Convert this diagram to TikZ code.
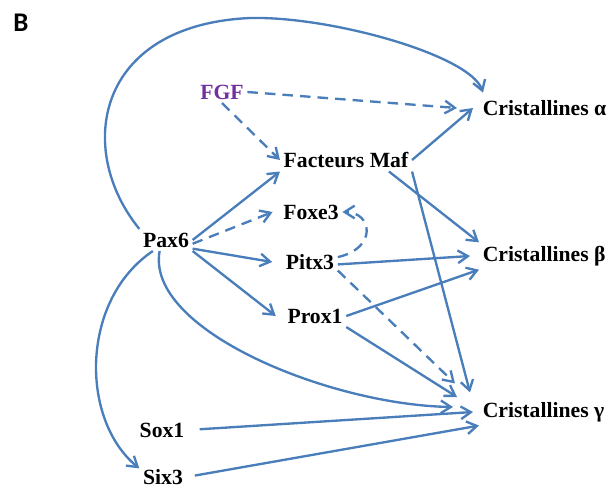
\documentclass[tikz,border=0pt]{standalone}
\usepackage{fontspec}
\setmainfont{Liberation Serif}
\newfontfamily\panelfont{Carlito}
\usetikzlibrary{arrows.meta,calc}
\definecolor{linkblue}{HTML}{4A7EBB}
\definecolor{fgfpurple}{HTML}{7030A0}
\tikzset{
  gene/.style={font=\fontsize{18.5}{20}\selectfont\bfseries, inner sep=3pt},
  crys/.style={gene, anchor=west},
  arr/.style={-{Straight Barb[length=3mm,width=3.8mm]}, line width=2pt, draw=linkblue},
  dasharr/.style={arr, dash pattern=on 9pt off 6pt}
}
\begin{document}
\begin{tikzpicture}[x=0.03cm,y=-0.03cm]
  \useasboundingbox (0,0) rectangle (612,490);
  \node[font=\panelfont\bfseries\fontsize{23}{25}\selectfont] (panel) at (21,23) {B};
  \node[gene, text=fgfpurple] (fgf) at (222,92) {FGF};
  \node[gene] (maf) at (346,160) {Facteurs Maf};
  \node[crys] (cra) at (479,108) {Cristallines α};
  \node[gene] (foxe) at (311,212) {Foxe3};
  \node[gene] (pax) at (166,240) {Pax6};
  \node[gene] (pitx) at (310,262) {Pitx3};
  \node[crys] (crb) at (479,256) {Cristallines β};
  \node[gene] (prox) at (315,316) {Prox1};
  \node[crys] (crg) at (479,412) {Cristallines γ};
  \node[gene] (sox) at (162,430) {Sox1};
  \node[gene] (six) at (163,477) {Six3};
  % Pax6
  \draw[arr] (pax.north west) .. controls (75,150) and (95,25) .. (250,18)
    .. controls (330,16) and (470,55) .. ($(cra.north west)+(4,-4)$);
  \draw[arr] (pax.east) -- (maf.south west);
  \draw[dasharr] (pax.-8) -- ($(foxe.west)+(-7,0)$);
  \draw[arr] (pax.-18) -- ($(pitx.west)+(-10,0)$);
  \draw[arr] (pax.south east) -- ($(prox.west)+(-8,0)$);
  \draw[arr] (pax.-120) .. controls (145,330) and (330,405) .. ($(crg.west)+(-26,-5)$);
  \draw[arr] (pax.-140) .. controls (80,300) and (80,420) .. (six.160);
  % FGF
  \draw[dasharr] (fgf.east) -- ($(cra.west)+(-22,0)$);
  \draw[dasharr] (fgf.south) -- (maf.west);
  % Maf
  \draw[arr] (maf.east) -- ($(cra.west)+(-6,0)$);
  \draw[arr] (maf.-15) -- (crb.north west);
  \draw[arr] (maf.south east) -- ($(crg.north west)+(-9,-6)$);
  % Pitx3, Prox1
  \draw[dasharr] (pitx.10) .. controls (378,248) and (372,212) .. (foxe.east);
  \draw[arr] (pitx.-5) -- ($(crb.west)+(-9,0)$);
  \draw[dasharr] (pitx.-17) -- ($(crg.north west)+(-24,-15)$);
  \draw[arr] (prox.east) -- (crb.south west);
  \draw[arr] (prox.south east) -- ($(crg.west)+(-22,-15)$);
  % Sox1, Six3
  \draw[arr, shorten <=0.35cm] (sox.east) -- ($(crg.west)+(-6,0)$);
  \draw[arr, shorten <=0.25cm] (six.east) -- (crg.south west);
\end{tikzpicture}
\end{document}
